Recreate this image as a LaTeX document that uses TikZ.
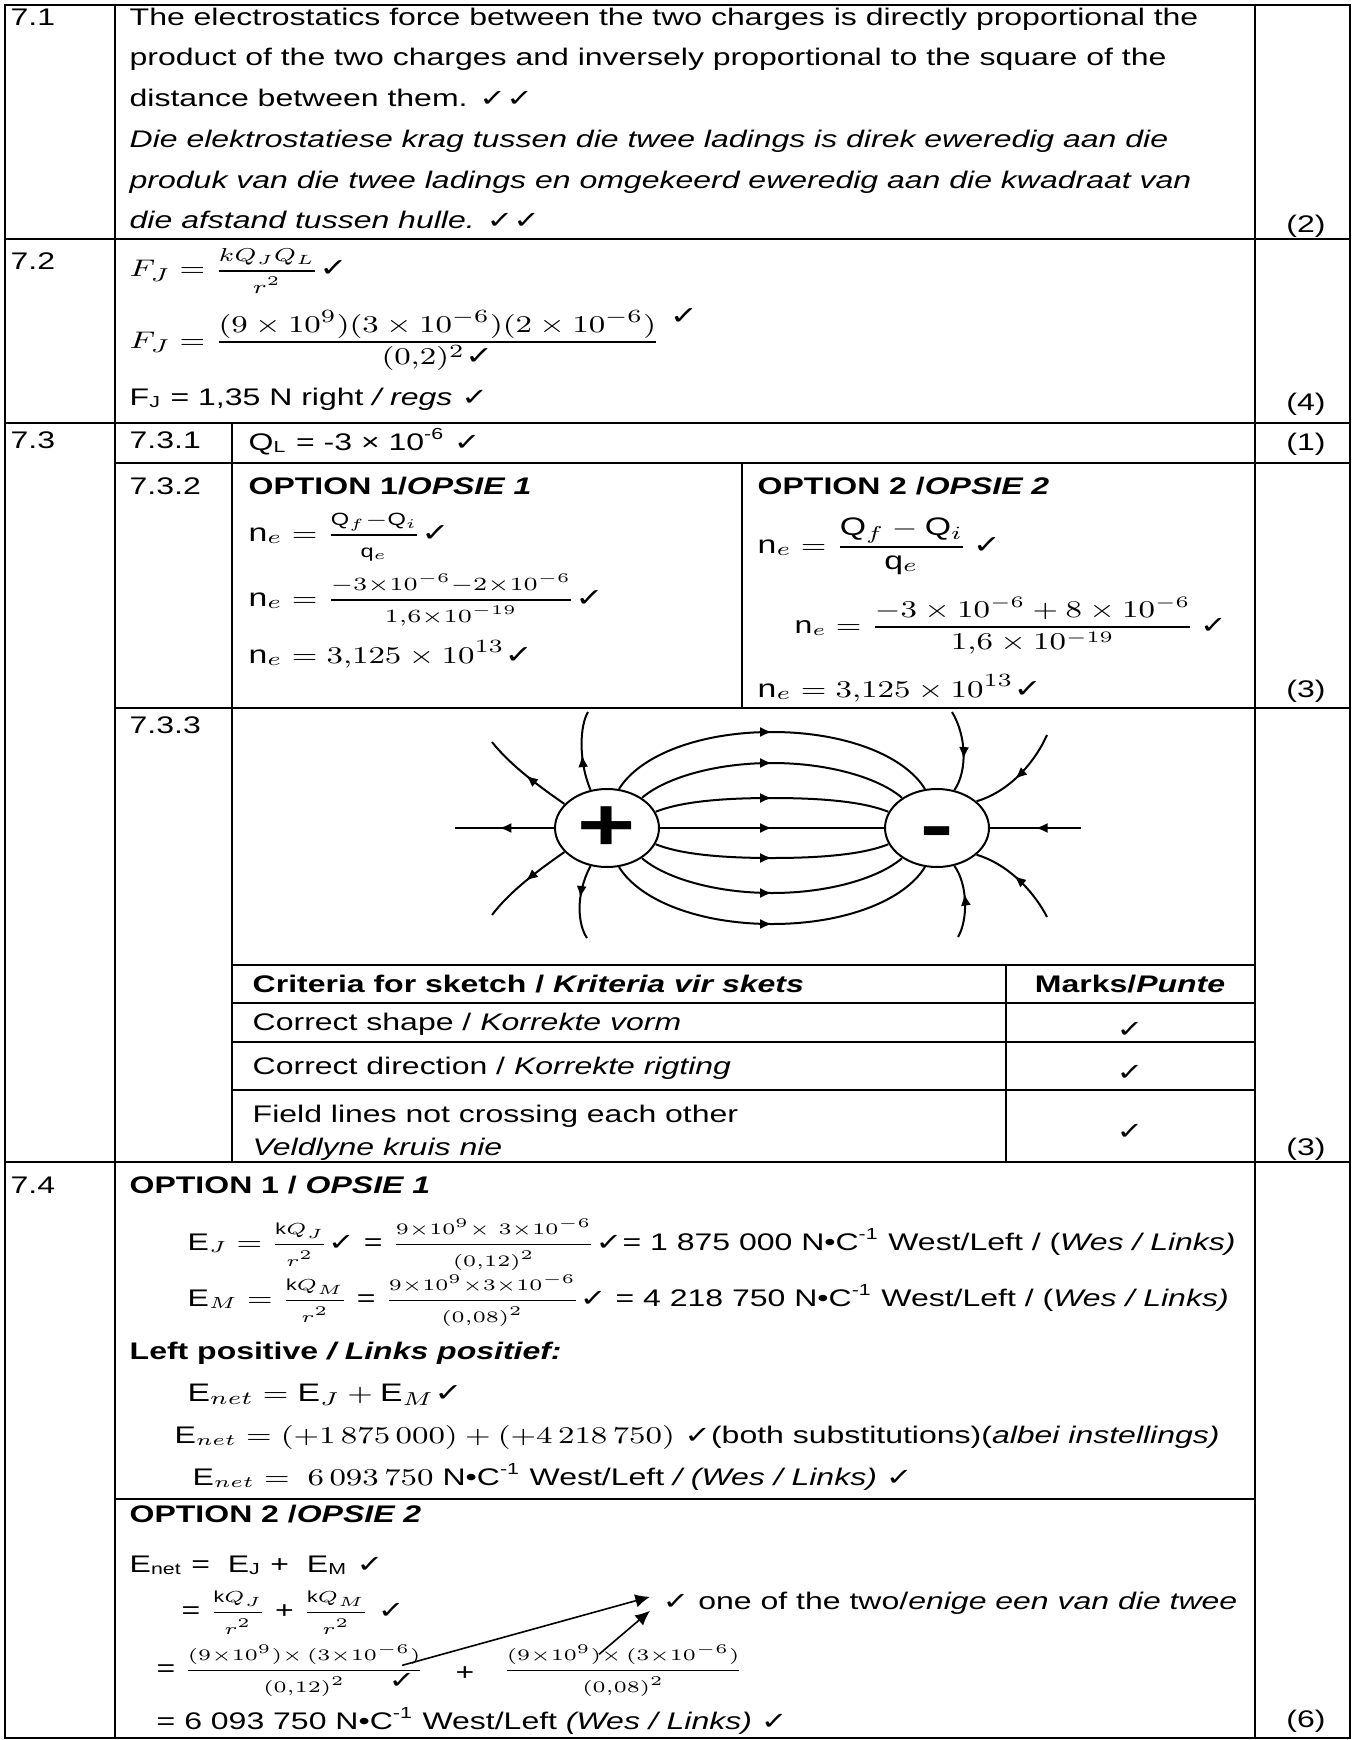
\documentclass[tikz,border=0pt]{standalone}
\usepackage{amsmath}
\usepackage{fontspec}
\setmainfont{Liberation Sans}
\newfontfamily\ckfont{DejaVu Sans}
\newcommand\chk{{\ckfont ✓}}
\newcommand\smallfrac[2]{{\displaystyle\frac{\scriptstyle #1}{\scriptstyle #2}}}
\usetikzlibrary{arrows.meta, calc, decorations.markings, shapes.geometric}
\tikzstyle{tabline} = [line width=0.75pt]
\tikzstyle{txt} = [anchor=base west, inner sep=0pt, xscale=1.333,
    font=\fontsize{9}{11}\selectfont]
\tikzstyle{eqn} = [txt, font=\fontsize{9.5}{11}\selectfont]
\tikzstyle{score} = [txt, anchor=base]
\tikzstyle{charge} = [draw, circle, line width=0.75pt, minimum size=29.25pt,
    inner sep=0pt, xscale=1.333, text height=18.4pt, text depth=1.4pt,
    font=\fontsize{28}{28}\selectfont\bfseries]
\tikzstyle{pointer} = [-{Latex[length=5.5pt, width=5pt]}, line width=0.6pt]
\tikzset{fieldline/.style={line width=0.75pt, postaction={decorate},
    decoration={markings, mark=at position #1 with
    {\arrow{Latex[length=4.5pt, width=3.75pt]}}}}}

\begin{document}
\begin{tikzpicture}[x=0.375pt, y=-0.375pt]
  \useasboundingbox (0,0) rectangle (1353,1740);

  % Table rules
  \draw [tabline] (5,5) rectangle (1350,1738);
  \draw [tabline] (115,5) -- (115,1738);
  \draw [tabline] (1255,5) -- (1255,1738);
  \draw [tabline] (5,239) -- (1350,239);
  \draw [tabline] (5,423) -- (1350,423);
  \draw [tabline] (115,463) -- (1350,463);
  \draw [tabline] (115,708) -- (1350,708);
  \draw [tabline] (5,1162) -- (1350,1162);
  \draw [tabline] (115,1499) -- (1255,1499);
  \draw [tabline] (232,423) -- (232,1162);
  \draw [tabline] (742,463) -- (742,708);
  \draw [tabline] (1006,965) -- (1006,1162);
  \foreach \y in {965,1003,1042,1090}
    \draw [tabline] (232,\y) -- (1255,\y);

  % Question numbers and marks
  \node [txt] (q71) at (10,26) {7.1};
  \node [txt] (q72) at (10,270) {7.2};
  \node [txt] (q73) at (10,448) {7.3};
  \node [txt] (q74) at (10,1193) {7.4};
  \node [txt] (q731) at (129,448) {7.3.1};
  \node [txt] (q732) at (129,494) {7.3.2};
  \node [txt] (q733) at (129,733) {7.3.3};
  \node [score] (m71) at (1306,233) {(2)};
  \node [score] (m72) at (1306,410) {(4)};
  \node [score] (m731) at (1306,450) {(1)};
  \node [score] (m732) at (1306,697) {(3)};
  \node [score] (m733) at (1306,1155) {(3)};
  \node [score] (m74) at (1306,1727) {(6)};

  % 7.1
  \node [txt] (law1) at (129,26) {The electrostatics force between the two charges is directly proportional the};
  \node [txt] (law2) at (129,66) {product of the two charges and inversely proportional to the square of the};
  \node [txt] (law3) at (129,107) {distance between them. \chk\chk};
  \node [txt] (wet1) at (129,148) {\itshape Die elektrostatiese krag tussen die twee ladings is direk eweredig aan die};
  \node [txt] (wet2) at (129,189) {\itshape produk van die twee ladings en omgekeerd eweredig aan die kwadraat van};
  \node [txt] (wet3) at (129,229) {\itshape die afstand tussen hulle. \chk\chk};

  % 7.2
  \node [eqn] (fj1) at (129,277) {$F_J = \smallfrac{kQ_JQ_L}{r^2}$\chk};
  \node [eqn] (fj2) at (129,348) {$F_J = \dfrac{(9\times10^{9})(3\times10^{-6})(2\times10^{-6})}{(0{,}2)^2\text{\chk}}\text{\ \raisebox{9pt}{\chk}}$};
  \node [txt] (fj3) at (129,405) {F\textsubscript{J} = 1,35 N right \textit{/ regs} \chk};

  % 7.3.1 and 7.3.2
  \node [txt] (ql) at (248,450) {Q\textsubscript{L} = -3 × 10\textsuperscript{-6} \chk};
  \node [txt] (opt1) at (248,494) {\bfseries OPTION 1/\textit{OPSIE 1}};
  \node [txt] (opt2) at (757,494) {\bfseries OPTION 2 /\textit{OPSIE 2}};
  \node [eqn] (ne1) at (248,541) {$\mathrm{n}_e = \smallfrac{\mathrm{Q}_f-\mathrm{Q}_i}{\mathrm{q}_e}$\chk};
  \node [eqn] (ne2) at (248,606) {$\mathrm{n}_e = \smallfrac{-3\times10^{-6}-2\times10^{-6}}{1{,}6\times10^{-19}}$\chk};
  \node [eqn] (ne3) at (248,663) {$\mathrm{n}_e = 3{,}125\times10^{13}$\chk};
  \node [eqn] (ne4) at (757,553) {$\mathrm{n}_e = \dfrac{\mathrm{Q}_f-\mathrm{Q}_i}{\mathrm{q}_e}$\,\chk};
  \node [txt] (ne5) at (794,633) {$\mathrm{n}_e = \dfrac{-3\times10^{-6}+8\times10^{-6}}{1{,}6\times10^{-19}}$\,\chk};
  \node [eqn] (ne6) at (757,697) {$\mathrm{n}_e = 3{,}125\times10^{13}$\chk};

  % 7.3.3 sketch
  \node [charge] (pos) at (607,828) {+};
  \node [charge] (neg) at (937,828) {-};
  \coordinate (pl) at (455,828);
  \coordinate (pul) at (492,742);
  \coordinate (pup) at (588,712);
  \coordinate (pll) at (492,915);
  \coordinate (plo) at (587,938);
  \coordinate (nr) at (1081,828);
  \coordinate (nur) at (1047,735);
  \coordinate (nup) at (952,712);
  \coordinate (nlr) at (1047,917);
  \coordinate (nlo) at (958,937);
  \draw [fieldline=0.5] (pos.77) .. controls (640,755) and (700,732) .. (772,732)
    .. controls (844,732) and (904,755) .. (neg.103);
  \draw [fieldline=0.5] (pos.49) .. controls (665,778) and (715,763) .. (772,763)
    .. controls (829,763) and (879,778) .. (neg.131);
  \draw [fieldline=0.5] (pos.24) .. controls (680,802) and (720,798) .. (772,798)
    .. controls (824,798) and (864,802) .. (neg.156);
  \draw [fieldline=0.5] (pos.0) -- (neg.180);
  \draw [fieldline=0.5] (pos.-24) .. controls (680,854) and (720,858) .. (772,858)
    .. controls (824,858) and (864,854) .. (neg.204);
  \draw [fieldline=0.5] (pos.-49) .. controls (665,878) and (715,893) .. (772,893)
    .. controls (829,893) and (879,878) .. (neg.229);
  \draw [fieldline=0.5] (pos.-77) .. controls (640,901) and (700,924) .. (772,924)
    .. controls (844,924) and (904,901) .. (neg.257);
  \draw [fieldline=0.55] (pos.180) -- (pl);
  \draw [fieldline=0.5] (pos.143) .. controls (540,787) and (510,765) .. (pul);
  \draw [fieldline=0.45] (pos.108) .. controls (578,760) and (580,725) .. (pup);
  \draw [fieldline=0.5] (pos.217) .. controls (540,869) and (510,891) .. (pll);
  \draw [fieldline=0.45] (pos.252) .. controls (575,895) and (578,925) .. (plo);
  \draw [fieldline=0.5] (nr) -- (neg.0);
  \draw [fieldline=0.55] (nur) .. controls (1032,768) and (1005,793) .. (neg.42);
  \draw [fieldline=0.6] (nup) .. controls (966,735) and (968,770) .. (neg.71);
  \draw [fieldline=0.55] (nlr) .. controls (1032,888) and (1005,863) .. (neg.318);
  \draw [fieldline=0.6] (nlo) .. controls (968,920) and (968,885) .. (neg.289);

  % 7.3.3 criteria
  \node [txt] (crit) at (252,992) {\bfseries Criteria for sketch / \textit{Kriteria vir skets}};
  \node [score] (critm) at (1130,992) {\bfseries Marks/\textit{Punte}};
  \node [txt] (shape) at (252,1030) {Correct shape / \textit{Korrekte vorm}};
  \node [score] (shapem) at (1130,1037) {\chk};
  \node [txt] (dir) at (252,1074) {Correct direction / \textit{Korrekte rigting}};
  \node [score] (dirm) at (1130,1080) {\chk};
  \node [txt] (cross) at (252,1122) {Field lines not crossing each other};
  \node [txt] (kruis) at (252,1155) {\itshape Veldlyne kruis nie};
  \node [score] (crossm) at (1130,1139) {\chk};

  % 7.4 option 1
  \node [txt] (opt41) at (129,1193) {\bfseries OPTION 1 / \textit{OPSIE 1}};
  \node [txt] (ej) at (187,1250) {$\mathrm{E}_J = \smallfrac{\mathrm{k}Q_J}{r^2}$\chk{} = $\smallfrac{9\times10^9\times\ 3\times10^{-6}}{(0{,}12)^2}$\chk= 1 875 000 N•C\textsuperscript{-1} West/Left / (\textit{Wes / Links)}};
  \node [txt] (em) at (187,1306) {$\mathrm{E}_M = \smallfrac{\mathrm{k}Q_M}{r^2}$ = $\smallfrac{9\times10^9\times3\times10^{-6}}{(0{,}08)^2}$\chk{} = 4 218 750 N•C\textsuperscript{-1} West/Left / (\textit{Wes / Links)}};
  \node [txt] (left) at (129,1359) {\bfseries Left positive \textit{/ Links positief:}};
  \node [eqn] (enet1) at (187,1401) {$\mathrm{E}_{net} = \mathrm{E}_J + \mathrm{E}_M$\chk};
  \node [txt] (enet2) at (174,1443) {$\mathrm{E}_{net} = (+1\,875\,000) + (+4\,218\,750)$ \chk(both substitutions)(\textit{albei instellings)}};
  \node [txt] (enet3) at (192,1485) {$\mathrm{E}_{net} =\ 6\,093\,750$ N•C\textsuperscript{-1} West/Left \textit{/ (Wes / Links)} \chk};

  % 7.4 option 2
  \node [txt] (opt42) at (129,1522) {\bfseries OPTION 2 /\textit{OPSIE 2}};
  \node [txt] (sum) at (129,1572) {E\textsubscript{net} =\ \ E\textsubscript{J} +\ \ E\textsubscript{M} \chk};
  \node [txt] (ksum) at (181,1618) {= $\smallfrac{\mathrm{k}Q_J}{r^2}$ + $\smallfrac{\mathrm{k}Q_M}{r^2}$ \chk};
  \node [txt] (eq2) at (156,1676) {=};
  \node [txt] (fracJ) at (183,1676) {$\smallfrac{(9\times10^9)\times\,(3\times10^{-6})}{(0{,}12)^2}$};
  \node [txt] (chkJ) at (388,1688) {\chk};
  \node [txt] (plus) at (455,1680) {+};
  \node [txt] (fracM) at (502,1676) {$\smallfrac{(9\times10^9)\times\,(3\times10^{-6})}{(0{,}08)^2}$};
  \node [txt] (onetwo) at (662,1609) {\chk{} one of the two/\textit{enige een van die twee}};
  \node [txt] (total) at (156,1729) {= 6 093 750 N•C\textsuperscript{-1} West/Left \textit{(Wes / Links)} \chk};

  % Connect the options
  \draw [pointer] ($(chkJ.north)+(0,-7)$) -- ($(onetwo.west)+(-12,-6)$);
  \draw [pointer] ($(fracM.north west)!0.4!(fracM.north east)+(0,10)$) -- ($(onetwo.west)+(-12,8)$);
\end{tikzpicture}
\end{document}
